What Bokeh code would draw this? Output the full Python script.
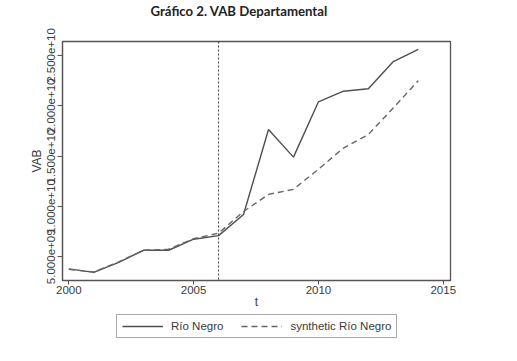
from bokeh.plotting import figure
from bokeh.layouts import column
from bokeh.models import Range1d, FixedTicker, Span, Legend, LegendItem, Title
from bokeh.embed import file_html
from bokeh.resources import INLINE

# ---- data ----
years = [2000, 2001, 2002, 2003, 2004, 2005, 2006, 2007, 2008, 2009, 2010, 2011, 2012, 2013, 2014]
rio_negro = [3.8e9, 3.45e9, 4.45e9, 5.65e9, 5.65e9, 6.75e9, 7.1e9, 9.2e9, 17.65e9, 14.9e9,
             20.4e9, 21.45e9, 21.7e9, 24.4e9, 25.6e9]
synthetic_rio_negro = [3.75e9, 3.5e9, 4.5e9, 5.65e9, 5.75e9, 6.8e9, 7.35e9, 9.5e9, 11.2e9, 11.7e9,
                       13.7e9, 15.8e9, 17.15e9, 19.8e9, 22.5e9]
treatment_year = 2006
x_ticks = [2000, 2005, 2010, 2015]
y_ticks = [5e9, 1e10, 1.5e10, 2e10, 2.5e10]
y_tick_labels = ["5.000e+09", "1.000e+10", "1.500e+10", "2.000e+10", "2.500e+10"]
title_text = "Gráfico 2. VAB Departamental"
series_names = ["Río Negro", "synthetic Río Negro"]

TEXT = "#3a3a3a"
FONT = "Liberation Sans"
FRAME_W, FRAME_H = 388, 239
SOLID = dict(line_color="#4f4f4f", line_width=1.4)
DASHED = dict(line_color="#666666", line_width=1.4, line_dash="6 4")

p = figure(
    frame_width=FRAME_W, frame_height=FRAME_H,
    min_border_left=62, min_border_right=60, min_border_top=0, min_border_bottom=0,
    x_range=Range1d(1999.748, 2015.29), y_range=Range1d(2.645e9, 2.639e10),
    output_backend="svg", toolbar_location=None,
)
p.background_fill_color = "white"
p.border_fill_color = "white"
p.grid.visible = False
p.outline_line_color = "#555555"
p.outline_line_width = 1.3

# real title (outermost) and a spacer title between it and the frame
p.title.text = title_text
p.title.text_font = "Lato"
p.title.text_font_style = "bold"
p.title.text_font_size = "13.2px"
p.title.text_color = "#222222"
p.title.text_line_height = 0.8
p.title.align = "left"
p.title.offset = 88
p.title.standoff = 0
p.add_layout(Title(text=" ", text_font_size="12px", standoff=7), "above")

# axes
for ax in (p.xaxis[0], p.yaxis[0]):
    ax.axis_line_color = "#555555"
    ax.axis_line_width = 1.2
    ax.major_tick_line_color = "#555555"
    ax.major_tick_out = 5
    ax.major_tick_in = 0
    ax.minor_tick_line_color = None
    ax.major_label_text_font = FONT
    ax.major_label_text_font_size = "11.5px"
    ax.major_label_text_color = TEXT
    ax.axis_label_text_font = FONT
    ax.axis_label_text_font_size = "12px"
    ax.axis_label_text_font_style = "normal"
    ax.axis_label_text_color = TEXT

p.xaxis.ticker = FixedTicker(ticks=x_ticks)
p.xaxis.axis_label = "t"
p.xaxis.major_tick_out = 4
p.xaxis.major_label_standoff = 1
p.xaxis.axis_label_standoff = -2

p.yaxis.ticker = FixedTicker(ticks=y_ticks)
p.yaxis.major_label_overrides = {t: l for t, l in zip(y_ticks, y_tick_labels)}
p.yaxis.major_label_orientation = "vertical"
p.yaxis.axis_label = "VAB"
p.yaxis.major_label_standoff = 2
p.yaxis.axis_label_standoff = 1

# lines
r1 = p.line(years, rio_negro, **SOLID)
r2 = p.line(years, synthetic_rio_negro, **DASHED)

# treatment year marker
p.add_layout(Span(location=treatment_year, dimension="height", line_color="#333333",
                  line_width=1, line_dash="2 2"))

# legend strip below the chart (own small figure, frame aligned with the chart's frame);
# its ranges keep the series out of view so only the legend box shows
q = figure(width=FRAME_W + 122, height=34, x_axis_type=None, y_axis_type=None,
           min_border=0, output_backend="svg", toolbar_location=None,
           x_range=Range1d(0, 1), y_range=Range1d(0, 1))
q.outline_line_color = None
q.grid.visible = False
q.background_fill_color = "white"
q.border_fill_color = "white"
l1 = q.line(years, rio_negro, **SOLID)
l2 = q.line(years, synthetic_rio_negro, **DASHED)
legend = Legend(
    items=[LegendItem(label=series_names[0], renderers=[l1]),
           LegendItem(label=series_names[1], renderers=[l2])],
    orientation="horizontal", location=(54, 7),
    glyph_width=41, glyph_height=10, label_height=10,
    label_standoff=8, spacing=18, padding=5, margin=0,
    label_text_font=FONT, label_text_font_size="11.5px", label_text_color=TEXT,
    border_line_color="#555555", border_line_width=1.2,
    background_fill_color="white",
)
q.add_layout(legend, "center")

layout = column(p, q, spacing=0)
open("out.html", "w").write(file_html(layout, INLINE))
